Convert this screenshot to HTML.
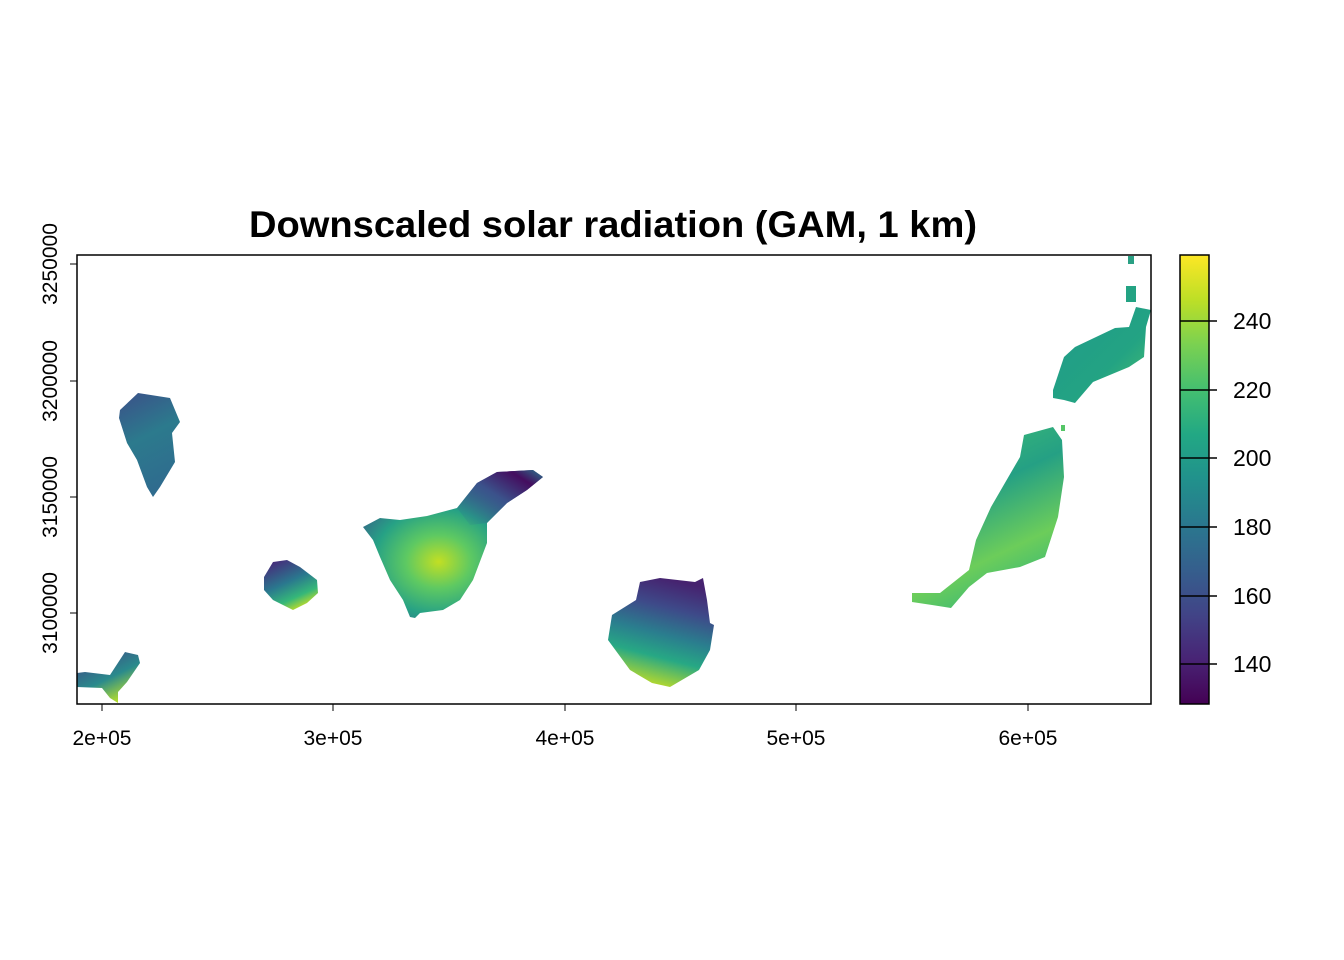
<!DOCTYPE html>
<html><head><meta charset="utf-8"><style>
html,body{margin:0;padding:0;background:#fff;}
svg{display:block;font-family:"Liberation Sans",Arial,sans-serif;}
</style></head><body>
<svg width="1344" height="960" viewBox="0 0 1344 960" xmlns="http://www.w3.org/2000/svg">
<defs>
<linearGradient id="vir" x1="0" y1="1" x2="0" y2="0">
<stop offset="0" stop-color="#440154"/><stop offset="0.1" stop-color="#482475"/>
<stop offset="0.2" stop-color="#414487"/><stop offset="0.3" stop-color="#355f8d"/>
<stop offset="0.4" stop-color="#2a788e"/><stop offset="0.5" stop-color="#21918c"/>
<stop offset="0.6" stop-color="#22a884"/><stop offset="0.7" stop-color="#44bf70"/>
<stop offset="0.8" stop-color="#7ad151"/><stop offset="0.9" stop-color="#bddf26"/>
<stop offset="1" stop-color="#fde725"/></linearGradient>
<linearGradient id="lp" x1="0" y1="0" x2="0.3" y2="1"><stop offset="0" stop-color="#3b5089"/><stop offset="0.5" stop-color="#2c7a8d"/><stop offset="1" stop-color="#2f6c8e"/></linearGradient>
<linearGradient id="eh" x1="0" y1="0" x2="0.6" y2="1"><stop offset="0" stop-color="#433d84"/><stop offset="0.6" stop-color="#2a8a8c"/><stop offset="1" stop-color="#b5de2b"/></linearGradient>
<linearGradient id="lg" x1="0.2" y1="0" x2="0.7" y2="1"><stop offset="0" stop-color="#472a7a"/><stop offset="0.45" stop-color="#2a788e"/><stop offset="0.75" stop-color="#35b779"/><stop offset="1" stop-color="#d8e219"/></linearGradient>
<radialGradient id="tf" cx="0.42" cy="0.62" r="0.6"><stop offset="0" stop-color="#c2df23"/><stop offset="0.3" stop-color="#5ec962"/><stop offset="0.6" stop-color="#26a185"/><stop offset="1" stop-color="#3e4a89"/></radialGradient>
<linearGradient id="tfne" x1="0" y1="1" x2="1" y2="0"><stop offset="0" stop-color="#2a7f8e" stop-opacity="0"/><stop offset="0.5" stop-color="#3b528b"/><stop offset="0.8" stop-color="#440d5f"/><stop offset="1" stop-color="#2a788e"/></linearGradient>
<linearGradient id="gc" x1="0.55" y1="0" x2="0.3" y2="1"><stop offset="0" stop-color="#46226f"/><stop offset="0.25" stop-color="#3e4a89"/><stop offset="0.5" stop-color="#2a7f8e"/><stop offset="0.7" stop-color="#27a884"/><stop offset="1" stop-color="#d2e21b"/></linearGradient>
<linearGradient id="fv" x1="0.3" y1="0" x2="0.7" y2="1"><stop offset="0" stop-color="#3cbb75"/><stop offset="0.35" stop-color="#25a084"/><stop offset="0.7" stop-color="#6ccd5a"/><stop offset="1" stop-color="#2fb47c"/></linearGradient>
<linearGradient id="lz" x1="0" y1="0" x2="1" y2="1"><stop offset="0" stop-color="#219a8a"/><stop offset="0.6" stop-color="#23a383"/><stop offset="1" stop-color="#4cc26c"/></linearGradient>
</defs>
<text x="613" y="237" text-anchor="middle" font-size="37" font-weight="bold" textLength="728" lengthAdjust="spacingAndGlyphs">Downscaled solar radiation (GAM, 1 km)</text>
<polygon fill="url(#lp)" points="120,410 138,393 170,398 180,422 172,433 175,462 160,487 153,497 147,487 137,460 127,443 119,418"/>
<polygon fill="url(#eh)" points="77,673 85,672 110,675 125,652 138,655 140,663 127,682 118,692 118,703 110,698 102,688 77,687"/>
<polygon fill="url(#lg)" points="264,577 273,562 287,560 300,567 317,580 318,593 307,603 293,610 273,600 264,590"/>
<polygon fill="url(#tf)" points="363,527 380,518 400,520 427,516 457,508 477,483 497,472 533,470 543,477 527,490 507,503 487,523 487,543 473,580 460,600 443,610 420,613 415,618 410,617 403,600 390,580 380,557 373,540"/>
<polygon fill="url(#tfne)" points="457,508 477,483 497,472 533,470 543,477 527,490 507,503 487,523 470,525"/>
<polygon fill="url(#gc)" points="640,582 660,578 695,582 703,578 707,600 710,623 714,625 710,650 699,670 670,687 652,683 630,670 608,640 612,615 628,605 636,600"/>
<polygon fill="url(#fv)" points="912,593 940,593 969,570 976,540 991,507 1020,457 1024,435 1053,427 1062,440 1064,477 1058,517 1045,557 1020,567 987,573 969,587 951,608 932,605 912,602"/>
<polygon fill="url(#lz)" points="1053,390 1064,357 1075,347 1115,328 1129,327 1136,307 1151,310 1146,327 1144,357 1129,367 1093,382 1075,403 1064,400 1053,398"/>
<rect x="1128" y="256" width="6" height="8" fill="#2aa084"/>
<rect x="1126" y="286" width="10" height="16" fill="#23a383"/>
<rect x="1061" y="425" width="4" height="6" fill="#55c667"/>
<rect x="77" y="255" width="1074" height="449" fill="none" stroke="#000" stroke-width="1.5"/>
<g stroke="#000" stroke-width="1">
<line x1="102" y1="704" x2="102" y2="711"/><line x1="333" y1="704" x2="333" y2="711"/><line x1="565" y1="704" x2="565" y2="711"/><line x1="796" y1="704" x2="796" y2="711"/><line x1="1028" y1="704" x2="1028" y2="711"/>
<line x1="70" y1="264" x2="77" y2="264"/><line x1="70" y1="381" x2="77" y2="381"/><line x1="70" y1="497" x2="77" y2="497"/><line x1="70" y1="613" x2="77" y2="613"/>
</g>
<g font-size="21" text-anchor="middle">
<text x="102" y="745">2e+05</text><text x="333" y="745">3e+05</text><text x="565" y="745">4e+05</text><text x="796" y="745">5e+05</text><text x="1028" y="745">6e+05</text>
<text transform="translate(57,264) rotate(-90)">3250000</text>
<text transform="translate(57,381) rotate(-90)">3200000</text>
<text transform="translate(57,497) rotate(-90)">3150000</text>
<text transform="translate(57,613) rotate(-90)">3100000</text>
</g>
<rect x="1180" y="255" width="29" height="449" fill="url(#vir)" stroke="#000" stroke-width="1.5"/>
<g stroke="#000" stroke-width="1.5">
<line x1="1180" y1="321" x2="1217" y2="321"/><line x1="1180" y1="390" x2="1217" y2="390"/><line x1="1180" y1="458" x2="1217" y2="458"/><line x1="1180" y1="527" x2="1217" y2="527"/><line x1="1180" y1="596" x2="1217" y2="596"/><line x1="1180" y1="664" x2="1217" y2="664"/>
</g>
<g font-size="23">
<text x="1233" y="329">240</text><text x="1233" y="398">220</text><text x="1233" y="466">200</text><text x="1233" y="535">180</text><text x="1233" y="604">160</text><text x="1233" y="672">140</text>
</g>
</svg>
</body></html>
